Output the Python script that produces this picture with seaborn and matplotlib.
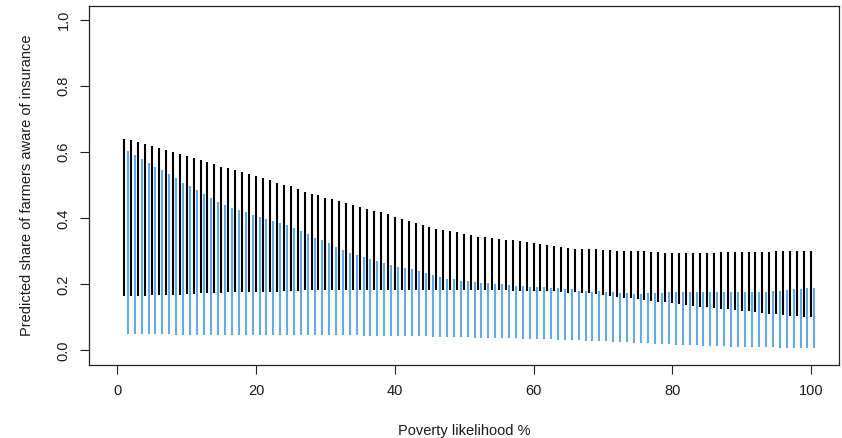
import matplotlib

matplotlib.use("Agg", force=True)
import matplotlib.pyplot as plt
import numpy as np
import pandas as pd
import seaborn as sns

# poverty likelihood (%) for each predicted interval
poverty_pct = np.arange(1, 101)

# black intervals (x = 1..100)
black_hi = [
    0.641, 0.636, 0.630, 0.625, 0.619, 0.613, 0.607, 0.601, 0.595, 0.589,
    0.582, 0.577, 0.571, 0.566, 0.557, 0.551, 0.545, 0.540, 0.534, 0.527,
    0.522, 0.516, 0.508, 0.502, 0.497, 0.490, 0.481, 0.475, 0.470, 0.463,
    0.458, 0.452, 0.446, 0.440, 0.434, 0.428, 0.423, 0.418, 0.412, 0.403,
    0.397, 0.392, 0.386, 0.380, 0.374, 0.368, 0.365, 0.362, 0.359, 0.354,
    0.351, 0.345, 0.343, 0.340, 0.337, 0.335, 0.334, 0.331, 0.329, 0.325,
    0.322, 0.320, 0.317, 0.313, 0.310, 0.307, 0.307, 0.307, 0.307, 0.305,
    0.305, 0.302, 0.302, 0.302, 0.302, 0.302, 0.298, 0.298, 0.294, 0.294,
    0.294, 0.294, 0.294, 0.294, 0.294, 0.294, 0.298, 0.298, 0.298, 0.298,
    0.298, 0.298, 0.298, 0.298, 0.300, 0.302, 0.302, 0.302, 0.302, 0.302,
]
black_lo = [
    0.166, 0.165, 0.165, 0.166, 0.167, 0.167, 0.168, 0.168, 0.169, 0.171,
    0.172, 0.173, 0.173, 0.175, 0.175, 0.176, 0.176, 0.176, 0.177, 0.177,
    0.178, 0.178, 0.178, 0.179, 0.179, 0.181, 0.182, 0.182, 0.183, 0.183,
    0.183, 0.183, 0.184, 0.184, 0.184, 0.184, 0.184, 0.184, 0.184, 0.184,
    0.184, 0.184, 0.184, 0.184, 0.184, 0.184, 0.184, 0.184, 0.183, 0.183,
    0.183, 0.183, 0.183, 0.182, 0.182, 0.182, 0.181, 0.181, 0.180, 0.180,
    0.180, 0.179, 0.180, 0.176, 0.175, 0.176, 0.173, 0.173, 0.171, 0.168,
    0.165, 0.163, 0.160, 0.158, 0.156, 0.153, 0.150, 0.148, 0.146, 0.143,
    0.141, 0.138, 0.135, 0.133, 0.133, 0.130, 0.127, 0.125, 0.123, 0.121,
    0.118, 0.115, 0.114, 0.111, 0.110, 0.107, 0.105, 0.103, 0.102, 0.101,
]

# blue intervals (drawn just right of each black one)
blue_hi = [
    0.605, 0.592, 0.580, 0.568, 0.557, 0.545, 0.534, 0.522, 0.507, 0.499,
    0.486, 0.475, 0.461, 0.449, 0.440, 0.431, 0.426, 0.420, 0.411, 0.405,
    0.398, 0.391, 0.385, 0.379, 0.371, 0.362, 0.353, 0.341, 0.334, 0.325,
    0.313, 0.305, 0.296, 0.288, 0.283, 0.277, 0.272, 0.265, 0.260, 0.254,
    0.251, 0.246, 0.240, 0.234, 0.228, 0.222, 0.217, 0.216, 0.211, 0.211,
    0.207, 0.204, 0.204, 0.201, 0.201, 0.199, 0.196, 0.196, 0.192, 0.192,
    0.191, 0.188, 0.188, 0.185, 0.185, 0.181, 0.181, 0.178, 0.180, 0.176,
    0.176, 0.173, 0.173, 0.170, 0.170, 0.173, 0.173, 0.175, 0.176, 0.176,
    0.176, 0.176, 0.176, 0.176, 0.176, 0.176, 0.176, 0.176, 0.176, 0.176,
    0.176, 0.178, 0.178, 0.181, 0.181, 0.183, 0.185, 0.185, 0.188, 0.188,
]
blue_lo = [
    0.049, 0.049, 0.049, 0.049, 0.049, 0.049, 0.049, 0.048, 0.048, 0.048,
    0.048, 0.048, 0.048, 0.048, 0.048, 0.048, 0.048, 0.048, 0.048, 0.047,
    0.047, 0.047, 0.047, 0.047, 0.047, 0.047, 0.047, 0.047, 0.047, 0.046,
    0.046, 0.046, 0.046, 0.046, 0.045, 0.045, 0.045, 0.045, 0.044, 0.044,
    0.044, 0.043, 0.043, 0.043, 0.042, 0.042, 0.041, 0.041, 0.040, 0.040,
    0.039, 0.039, 0.038, 0.038, 0.037, 0.037, 0.037, 0.036, 0.036, 0.035,
    0.035, 0.035, 0.032, 0.032, 0.032, 0.032, 0.030, 0.030, 0.028, 0.028,
    0.026, 0.026, 0.026, 0.024, 0.022, 0.022, 0.020, 0.020, 0.020, 0.018,
    0.016, 0.016, 0.016, 0.014, 0.014, 0.013, 0.013, 0.012, 0.011, 0.010,
    0.010, 0.009, 0.009, 0.009, 0.008, 0.008, 0.006, 0.006, 0.006, 0.006,
]

x_ticks = [0, 20, 40, 60, 80, 100]
y_ticks = [0.0, 0.2, 0.4, 0.6, 0.8, 1.0]

BLACK = "#000000"
BLUE = "#66a9e2"
DODGE = 0.5


def segments(x, lo, hi, group):
    n = len(x)
    return pd.DataFrame({
        "x": np.concatenate([x, x]),
        "y": np.concatenate([lo, hi]),
        "seg": [f"{group}{i}" for i in range(n)] * 2,
        "group": group,
    })


df = pd.concat([
    segments(poverty_pct, black_lo, black_hi, "black"),
    segments(poverty_pct + DODGE, blue_lo, blue_hi, "blue"),
], ignore_index=True)

sns.set_theme(style="white")
plt.rcParams["font.family"] = ["Liberation Sans", "DejaVu Sans"]

fig = plt.figure(figsize=(8.42, 4.38), dpi=100)
ax = fig.add_axes([89.3 / 842, 1 - 365 / 438, (838.7 - 89.3) / 842, (365 - 6) / 438])

sns.lineplot(
    data=df, x="x", y="y", hue="group", units="seg", estimator=None, sort=False,
    palette={"black": BLACK, "blue": BLUE}, linewidth=1.5, legend=False, ax=ax,
    solid_capstyle="butt",
)

ax.set_xlim(-4.04, 104.0)
ax.set_ylim(-0.044, 1.043)
ax.set_xticks(x_ticks)
ax.set_xticklabels([str(t) for t in x_ticks])
ax.set_yticks(y_ticks)
ax.set_yticklabels([f"{t:.1f}" for t in y_ticks], rotation=90, va="center")

for s in ax.spines.values():
    s.set_visible(True)
    s.set_color("#222222")
    s.set_linewidth(0.9)

ax.tick_params(axis="both", direction="out", length=6.5, width=0.8, color="#222222",
               labelsize=10.5, labelcolor="#1a1a1a", pad=7, bottom=True, left=True)

ax.set_xlabel("Poverty likelihood %", fontsize=10.5, color="#1a1a1a", labelpad=19)
ax.set_ylabel("Predicted share of farmers aware of insurance", fontsize=10.5,
              color="#1a1a1a", labelpad=16)

fig.savefig("out.png", dpi=100)
